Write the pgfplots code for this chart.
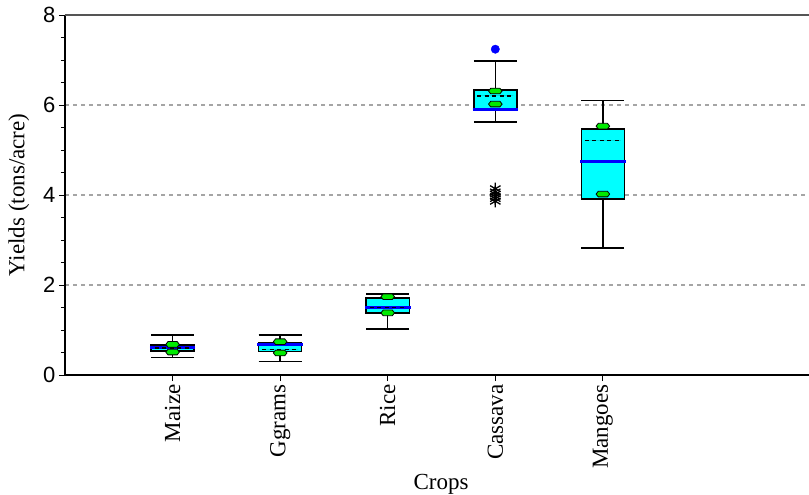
\documentclass[border=0pt]{standalone}
\usepackage{fontspec}
\setmainfont{Liberation Serif}
\newfontfamily\arialf{Liberation Sans}
\usepackage{pgfplots}
\pgfplotsset{compat=1.18}
\usepgfplotslibrary{statistics}
\definecolor{boxcyan}{RGB}{0,255,255}
\definecolor{notchgreen}{RGB}{0,235,0}
\definecolor{gridgray}{RGB}{165,165,165}
\definecolor{topgray}{RGB}{85,85,85}
\definecolor{medblue}{RGB}{0,0,255}
\pgfdeclareplotmark{hexnotch}{%
  \pgfpathmoveto{\pgfqpoint{-6.8pt}{0pt}}%
  \pgfpathlineto{\pgfqpoint{-4.6pt}{2.8pt}}%
  \pgfpathlineto{\pgfqpoint{4.6pt}{2.8pt}}%
  \pgfpathlineto{\pgfqpoint{6.8pt}{0pt}}%
  \pgfpathlineto{\pgfqpoint{4.6pt}{-2.8pt}}%
  \pgfpathlineto{\pgfqpoint{-4.6pt}{-2.8pt}}%
  \pgfpathclose
  \pgfusepathqfillstroke}
\begin{document}
\begin{tikzpicture}
\begin{axis}[
  scale only axis, width=744pt, height=360pt,
  xmin=0, xmax=6.916, ymin=0, ymax=8,
  clip=false,
  axis x line*=bottom, axis y line*=left,
  x axis line style={line width=2.4pt, black},
  y axis line style={line width=2pt, black},
  xtick={1,2,3,4,5},
  xticklabels={Maize,Ggrams,Rice,Cassava,Mangoes},
  ytick={0,2,4,6,8}, minor y tick num=3,
  tick align=outside, major tick length=6pt, minor tick length=4pt,
  tick style={black, line width=0.8pt},
  ymajorgrids,
  grid style={gridgray, line width=1.2pt, dash pattern=on 4pt off 4pt},
  /pgf/number format/assume math mode=true,
  yticklabel style={font=\arialf\fontsize{22}{22}\selectfont},
  xticklabel style={rotate=90, anchor=east, font=\fontsize{23}{23}\selectfont},
  xlabel={Crops}, ylabel={Yields (tons/acre)},
  label style={font=\fontsize{23}{23}\selectfont},
  xlabel style={at={(axis description cs:0.5054,-0.3194)}, anchor=base},
  ylabel style={at={(axis description cs:-0.0620,0.5)}, anchor=center},
  boxplot/draw direction=y,
  boxplot/box extend=0.4,
  boxplot/whisker extend=0.4,
  boxplot/draw/median/.code={\draw[medblue, line width=3pt] (boxplot box cs:\pgfplotsboxplotvalue{median},-0.03) -- (boxplot box cs:\pgfplotsboxplotvalue{median},1.03);},
  boxplot/draw/average/.code={\draw[black, line width=1.4pt, dash pattern=on 4pt off 3.5pt] (boxplot box cs:\pgfplotsboxplotvalue{average},0.08) -- (boxplot box cs:\pgfplotsboxplotvalue{average},0.92);},
]
% Maize
\addplot[draw=black, fill=boxcyan, line width=1.5pt, boxplot prepared={draw position=1,
  lower whisker=0.39, lower quartile=0.53, median=0.61, upper quartile=0.67, upper whisker=0.89, average=0.60}]
  coordinates {};
% Ggrams
\addplot[draw=black, fill=boxcyan, line width=1.5pt, boxplot prepared={draw position=2,
  lower whisker=0.30, lower quartile=0.52, median=0.67, upper quartile=0.72, upper whisker=0.89, average=0.57}]
  coordinates {};
% Rice
\addplot[draw=black, fill=boxcyan, line width=1.5pt, boxplot prepared={draw position=3,
  lower whisker=1.02, lower quartile=1.38, median=1.50, upper quartile=1.71, upper whisker=1.80, average=1.50}]
  coordinates {};
% Cassava
\addplot[draw=black, fill=boxcyan, line width=1.5pt, boxplot prepared={draw position=4,
  lower whisker=5.62, lower quartile=5.89, median=5.91, upper quartile=6.33, upper whisker=6.98, average=6.20}]
  coordinates {};
% Mangoes
\addplot[draw=black, fill=boxcyan, line width=1.5pt, boxplot prepared={draw position=5,
  lower whisker=2.82, lower quartile=3.91, median=4.74, upper quartile=5.47, upper whisker=6.10, average=5.21}]
  coordinates {};
% notches
\addplot[only marks, mark=hexnotch, mark options={fill=notchgreen, draw=black, line width=0.8pt}]
  coordinates {(1,0.68) (1,0.51) (2,0.74) (2,0.49) (3,1.74) (3,1.38) (4,6.31) (4,6.02) (5,5.53) (5,4.02)};
% outliers
\addplot[only marks, mark=*, mark size=4.2pt, medblue] coordinates {(4,7.24)};
\addplot[only marks, mark=asterisk, mark size=6pt, black, line width=1.3pt]
  coordinates {(4,4.14) (4,4.07) (4,4.02) (4,3.97) (4,3.92) (4,3.86)};
\draw[topgray, line width=1.5pt] (rel axis cs:0,1) -- (rel axis cs:1,1);
\end{axis}
\pgfresetboundingbox
\path ([shift={(-65pt,-119pt)}]current axis.south west) rectangle ([shift={(0pt,15pt)}]current axis.north east);
\end{tikzpicture}
\end{document}
